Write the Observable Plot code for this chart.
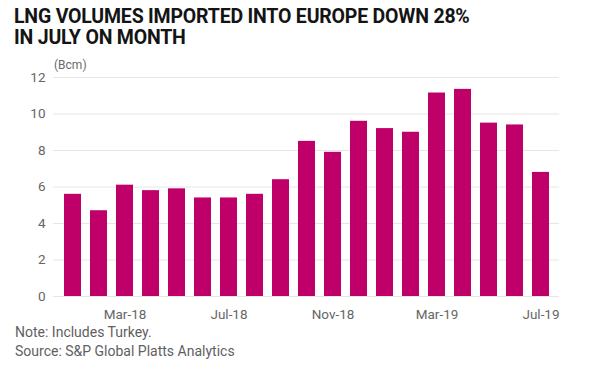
<!DOCTYPE html>
<html>
<head>
<meta charset="utf-8">
<script src="https://cdn.jsdelivr.net/npm/d3@7"></script>
<script src="https://cdn.jsdelivr.net/npm/@observablehq/plot@0.6"></script>
<style>
  html, body { margin: 0; padding: 0; background: #fff; }
  body { width: 592px; height: 369px; position: relative; overflow: hidden; font-family: Roboto, "Noto Sans", sans-serif; }
  #title { position: absolute; left: 14px; top: 6px; font-weight: 700; font-size: 19.5px; line-height: 21px; color: #141414; letter-spacing: -0.2px; }
  #unit { position: absolute; left: 54px; top: 58px; font-size: 12px; color: #6b6b6b; }
  #chart { position: absolute; left: 0; top: 55px; }
  #notes { position: absolute; left: 15px; top: 323px; font-size: 14px; line-height: 19px; color: #5f5f5f; }
</style>
</head>
<body>
<div id="title">LNG VOLUMES IMPORTED INTO EUROPE DOWN 28%<br>IN JULY ON MONTH</div>
<div id="unit">(Bcm)</div>
<div id="chart"></div>
<div id="notes">Note: Includes Turkey.<br>Source: S&amp;P Global Platts Analytics</div>
<script>
const months = ["Jan-18","Feb-18","Mar-18","Apr-18","May-18","Jun-18","Jul-18","Aug-18","Sep-18","Oct-18","Nov-18","Dec-18","Jan-19","Feb-19","Mar-19","Apr-19","May-19","Jun-19","Jul-19"];
const volumes = [5.6, 4.7, 6.1, 5.8, 5.9, 5.4, 5.4, 5.6, 6.4, 8.5, 7.9, 9.6, 9.2, 9.0, 11.15, 11.35, 9.5, 9.4, 6.8];
const xTicks = ["Mar-18","Jul-18","Nov-18","Mar-19","Jul-19"];
const yTicks = [0, 2, 4, 6, 8, 10, 12];

const data = months.map((m, i) => ({month: m, value: volumes[i]}));

const chart = Plot.plot({
  width: 592,
  height: 270,
  marginTop: 22,
  marginBottom: 29,
  marginLeft: 53,
  marginRight: 33,
  style: {fontFamily: "Roboto, 'Noto Sans', sans-serif", fontSize: "13.5px", color: "#666", background: "transparent"},
  x: {domain: months, paddingInner: 0.36, paddingOuter: 0.18, label: null},
  y: {domain: [0, 12], label: null},
  marks: [
    Plot.gridY(yTicks, {stroke: "#e6e6e6", strokeOpacity: 1, strokeWidth: 1}),
    Plot.barY(data, {x: "month", y: "value", fill: "#bf0068"}),
    Plot.axisX({ticks: xTicks, tickSize: 0, tickPadding: 13, fontSize: 13.5, fill: "#666"}),
    Plot.axisY({ticks: yTicks, tickSize: 0, tickPadding: 8, fontSize: 13.5, fill: "#666", label: null})
  ]
});
document.getElementById("chart").appendChild(chart);
</script>
</body>
</html>
